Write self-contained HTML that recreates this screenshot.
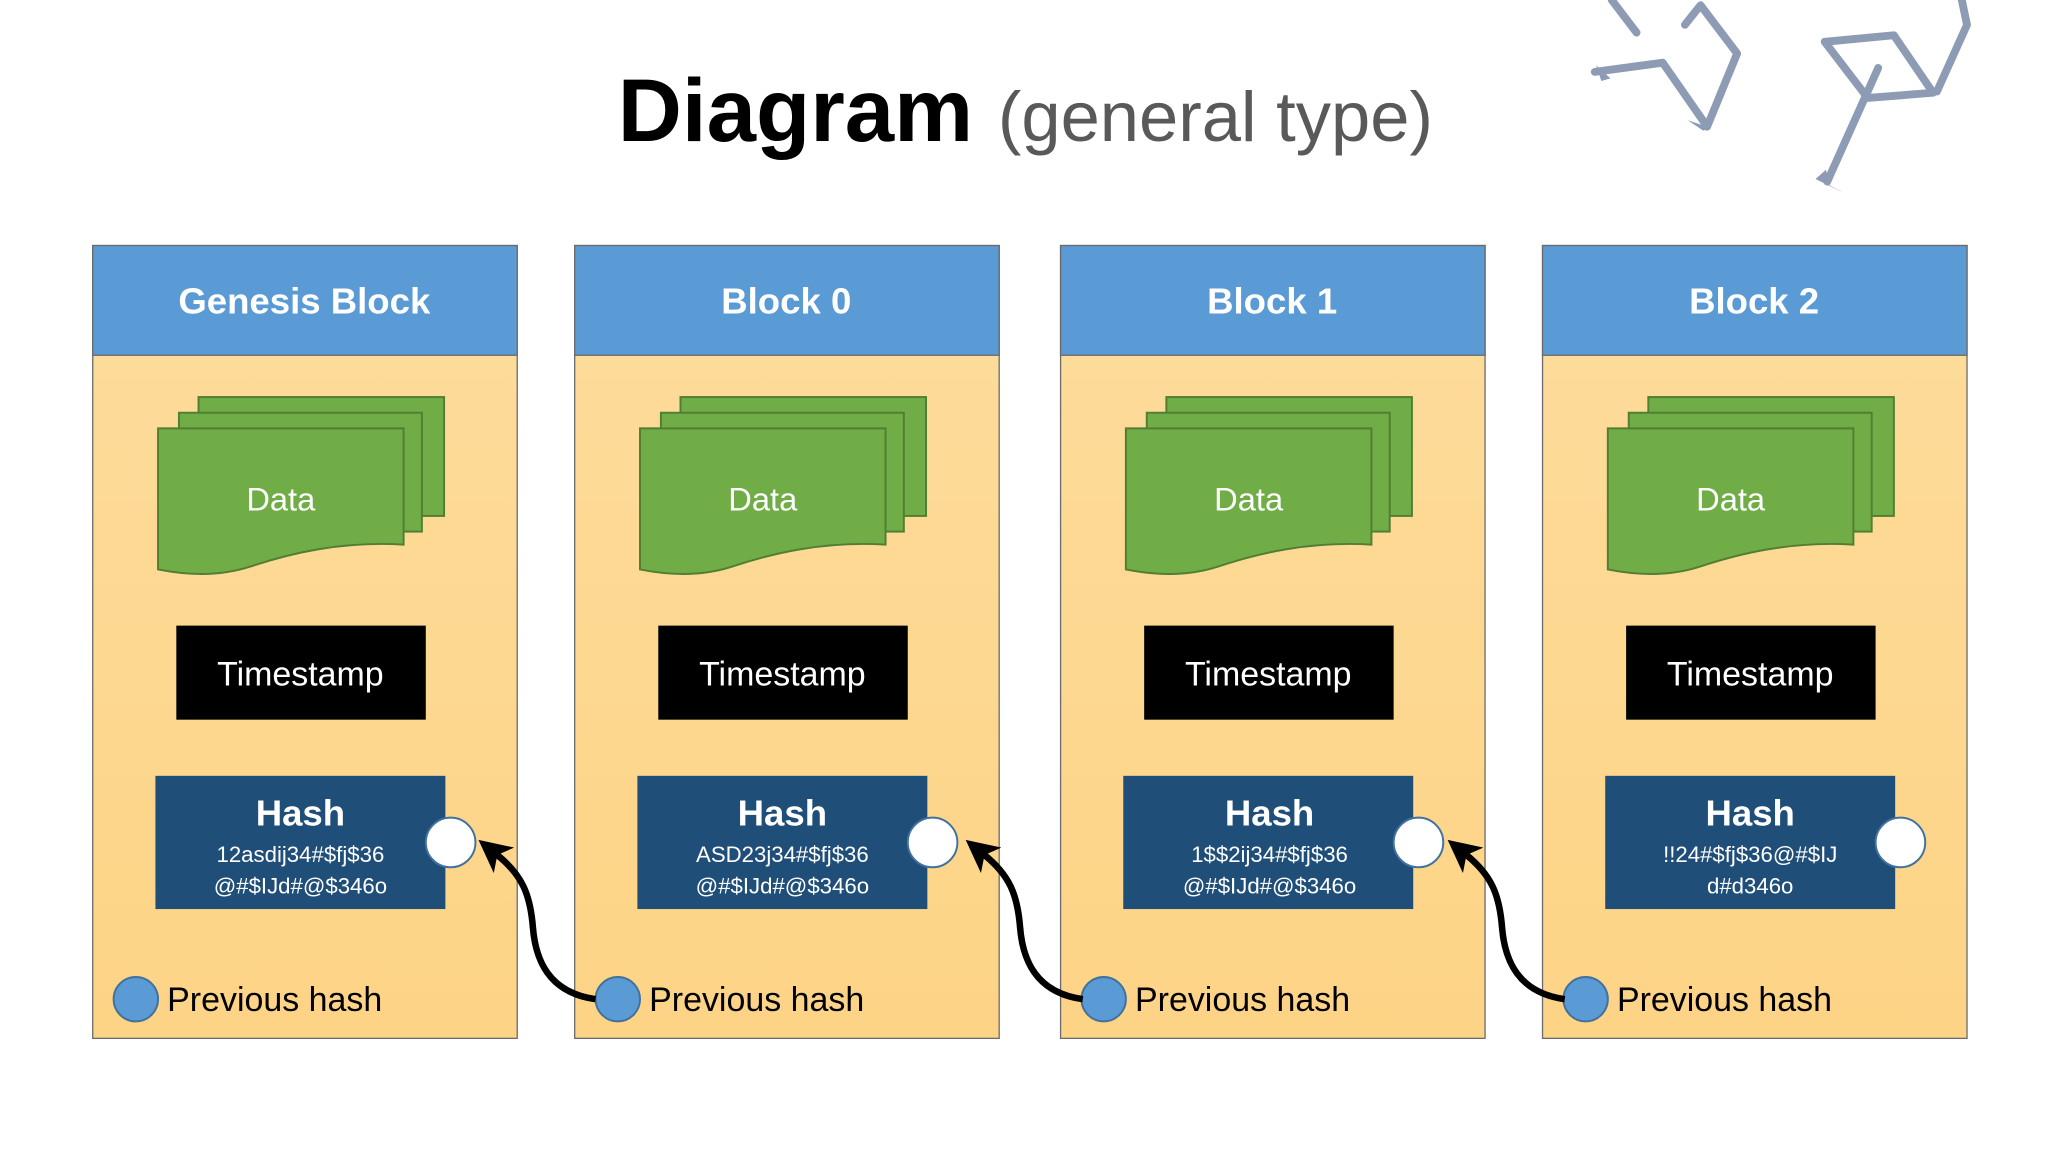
<!DOCTYPE html>
<html><head><meta charset="utf-8"><style>html,body{margin:0;padding:0;background:#fff}svg{display:block}</style></head>
<body>
<svg width="2048" height="1152" viewBox="0 0 1568 882" xmlns="http://www.w3.org/2000/svg" font-family="'Liberation Sans', sans-serif">
<defs>
<linearGradient id="bg" x1="0" y1="0" x2="0" y2="1"><stop offset="0" stop-color="#fddc9c"/><stop offset="1" stop-color="#fdd486"/></linearGradient>
<marker id="ah" markerWidth="5" markerHeight="5" refX="1.5" refY="2.5" orient="auto" markerUnits="strokeWidth"><path d="M0,0 L5,2.5 L0,5 L1.3,2.5 Z" fill="#000"/></marker>
<g id="blk">
  <rect x="0" y="0" width="325" height="607" fill="url(#bg)" stroke="#6b6b6b" stroke-width="1"/>
  <rect x="0" y="0" width="325" height="84" fill="#5b9bd5" stroke="#6b6b6b" stroke-width="1"/>
  <rect x="81" y="116" width="188" height="91" fill="#70ad47" stroke="#507e32" stroke-width="1.5"/>
  <rect x="66" y="128" width="186" height="91" fill="#70ad47" stroke="#507e32" stroke-width="1.5"/>
  <path d="M50,140 L238,140 L238,229 C190,226 150,236 120,246 C95,254 70,252 50,248 Z" fill="#70ad47" stroke="#507e32" stroke-width="1.5"/>
  <text x="144" y="203" font-size="25" fill="#fff" text-anchor="middle">Data</text>
  <rect x="64" y="291" width="191" height="72" fill="#000"/>
  <text x="159" y="337" font-size="26" fill="#fff" text-anchor="middle">Timestamp</text>
  <rect x="48" y="406" width="222" height="102" fill="#1f4e79"/>
  <circle cx="274" cy="457" r="19" fill="#fff" stroke="#41719c" stroke-width="1.5"/>
  <circle cx="33" cy="577" r="17" fill="#5b9bd5" stroke="#41719c" stroke-width="1.5"/>
  <text x="57" y="586" font-size="26" fill="#000">Previous hash</text>
</g>
</defs>
<text x="473" y="108" font-size="68" font-weight="bold" fill="#000">Diagram</text>
<text x="764" y="108" font-size="54" fill="#595959">(general type)</text>
<g fill="none" stroke="#8e9bb5" stroke-width="6" stroke-linecap="round" stroke-linejoin="round">
  <path d="M1234,0 L1253,25"/>
  <path d="M1221,55 L1273,48 L1305,94"/>
  <path d="M1290,19 L1302,4 L1330,41 L1307,97"/>
  <path d="M1397,32 L1450,27 L1480,71 L1430,75 Z"/>
  <path d="M1502,0 L1506,19 L1483,70"/>
  <path d="M1438,52 L1399,139"/>
</g>
<g fill="#8e9bb5">
  <path d="M1222,50 L1233,60 L1226,62 Z"/>
  <path d="M1292,92 L1310,98 L1304,100 Z"/>
  <path d="M1390,137 L1412,148 L1401,142 L1398,130 Z"/>
</g>
<g transform="translate(71,188)"><use href="#blk"/><text x="162" y="52" font-size="28" font-weight="bold" fill="#fff" text-anchor="middle">Genesis Block</text></g>
<g transform="translate(440,188)"><use href="#blk"/><text x="162" y="52" font-size="28" font-weight="bold" fill="#fff" text-anchor="middle">Block 0</text></g>
<g transform="translate(812,188)"><use href="#blk"/><text x="162" y="52" font-size="28" font-weight="bold" fill="#fff" text-anchor="middle">Block 1</text></g>
<g transform="translate(1181,188)"><use href="#blk"/><text x="162" y="52" font-size="28" font-weight="bold" fill="#fff" text-anchor="middle">Block 2</text></g>
<g fill="#fff" text-anchor="middle">
  <text x="230" y="632" font-size="28" font-weight="bold">Hash</text>
  <text x="230" y="660" font-size="17">12asdij34#$fj$36</text>
  <text x="230" y="684" font-size="17">@#$IJd#@$346o</text>
  <text x="599" y="632" font-size="28" font-weight="bold">Hash</text>
  <text x="599" y="660" font-size="17">ASD23j34#$fj$36</text>
  <text x="599" y="684" font-size="17">@#$IJd#@$346o</text>
  <text x="972" y="632" font-size="28" font-weight="bold">Hash</text>
  <text x="972" y="660" font-size="17">1$$2ij34#$fj$36</text>
  <text x="972" y="684" font-size="17">@#$IJd#@$346o</text>
  <text x="1340" y="632" font-size="28" font-weight="bold">Hash</text>
  <text x="1340" y="660" font-size="17">!!24#$fj$36@#$IJ</text>
  <text x="1340" y="684" font-size="17">d#d346o</text>
</g>
<g fill="none" stroke="#000" stroke-width="5" marker-end="url(#ah)">
  <path d="M456,765 C420,760 410,735 408,710 C406,685 400,670 380,654"/>
  <path d="M829,765 C793,760 783,735 781,710 C779,685 773,670 753,654"/>
  <path d="M1198,765 C1162,760 1152,735 1150,710 C1148,685 1142,670 1122,654"/>
</g>
</svg>
</body></html>
